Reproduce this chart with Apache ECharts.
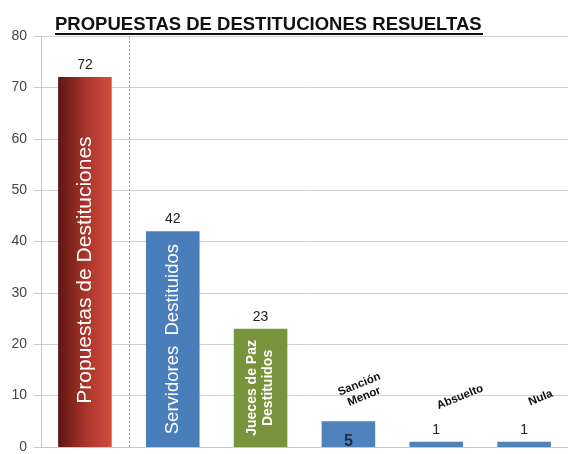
<!DOCTYPE html>
<html>
<head>
<meta charset="utf-8">
<script src="https://cdn.jsdelivr.net/npm/echarts@6/dist/echarts.min.js"></script>
<style>
  html, body { margin: 0; padding: 0; background: #fff; }
  #chart { width: 568px; height: 454px; }
</style>
</head>
<body>
<div id="chart"></div>
<script>
const categories = ['Propuestas de Destituciones', 'Servidores  Destituidos', 'Jueces de Paz\nDestituidos', 'Sanción\nMenor', 'Absuelto', 'Nula'];
const values = [72, 42, 23, 5, 1, 1];
const yMin = 0, yMax = 80, yStep = 10;
const dividerAfter = 1; // dotted divider between the first and second category

const chart = echarts.init(document.getElementById('chart'));

const barColors = [
  new echarts.graphic.LinearGradient(0, 0, 1, 0, [
    { offset: 0, color: '#5c1611' },
    { offset: 0.5, color: '#a8342a' },
    { offset: 1, color: '#d24d3f' }
  ]),
  '#4a7ebb', '#77933c', '#4f81bd', '#4f81bd', '#4f81bd'
];

// value labels: above the bar, except the small "5" which sits inside
const valueData = values.map((v, i) => ({
  value: v,
  itemStyle: { color: barColors[i] },
  label: i === 3
    ? { position: 'insideBottom', distance: 0, offset: [0, 3], fontSize: 16, fontWeight: 'bold', color: '#1c2b45' }
    : { position: 'top', distance: 5 }
}));

// name labels: rotated inside the tall bars, tilted above the short ones
// (offsets are in the label's rotated frame)
const nameStyles = [
  { position: 'inside', rotate: 90, color: '#fff', fontSize: 21, offset: [-8, 0] },
  { position: 'inside', rotate: 90, color: '#fff', fontSize: 18.5 },
  { position: 'inside', rotate: 90, color: '#fff', fontSize: 14, fontWeight: 'bold', lineHeight: 16 },
  { position: 'top', rotate: 22, color: '#111', fontSize: 11.5, fontWeight: 'bold', lineHeight: 13, offset: [22, -6] },
  { position: 'top', rotate: 22, color: '#111', fontSize: 11.5, fontWeight: 'bold', offset: [37, -22] },
  { position: 'top', rotate: 22, color: '#111', fontSize: 11.5, fontWeight: 'bold', offset: [30, -24] }
];
const nameData = values.map((v, i) => ({
  value: v,
  label: Object.assign({ show: true, formatter: categories[i] }, nameStyles[i])
}));

const option = {
  animation: false,
  textStyle: { fontFamily: 'Liberation Sans, Arial, sans-serif' },
  title: {
    text: 'PROPUESTAS DE DESTITUCIONES RESUELTAS',
    left: 55,
    top: 15,
    padding: 0,
    textStyle: { fontSize: 18.5, fontWeight: 'bold', color: '#111', fontFamily: 'Liberation Sans, Arial, sans-serif' }
  },
  graphic: [{
    type: 'rect',
    shape: { x: 55, y: 33, width: 428, height: 2 },
    style: { fill: '#111' }
  }],
  grid: { left: 41, right: 0, top: 36, bottom: 2, containLabel: false },
  xAxis: [
    {
      type: 'category',
      data: categories,
      axisLine: { show: true, lineStyle: { color: '#c8c8c8' } },
      axisTick: { show: false },
      axisLabel: { show: false },
      splitLine: { show: false }
    },
    {
      // hidden linear axis over the categories, used to place the divider
      type: 'value',
      min: 0,
      max: categories.length,
      show: false
    }
  ],
  yAxis: {
    type: 'value',
    min: yMin,
    max: yMax,
    interval: yStep,
    axisLine: { show: true, lineStyle: { color: '#c8c8c8' } },
    axisTick: { show: true, length: 7, lineStyle: { color: '#c8c8c8' } },
    axisLabel: { color: '#444', fontSize: 14, margin: 14 },
    splitLine: { lineStyle: { color: '#d0d0d0', width: 1 } }
  },
  series: [
    {
      type: 'bar',
      data: valueData,
      barWidth: '61%',
      label: { show: true, color: '#222', fontSize: 14 },
      z: 2
    },
    {
      type: 'bar',
      data: nameData,
      barWidth: '61%',
      barGap: '-100%',
      itemStyle: { color: 'rgba(0,0,0,0)' },
      silent: true,
      z: 3
    },
    {
      type: 'line',
      xAxisIndex: 1,
      data: [],
      silent: true,
      markLine: {
        symbol: 'none',
        silent: true,
        label: { show: false },
        lineStyle: { color: '#8fb0d8', type: [2, 2], width: 1 },
        data: [{ xAxis: dividerAfter }]
      }
    }
  ]
};

chart.setOption(option);
</script>
</body>
</html>
